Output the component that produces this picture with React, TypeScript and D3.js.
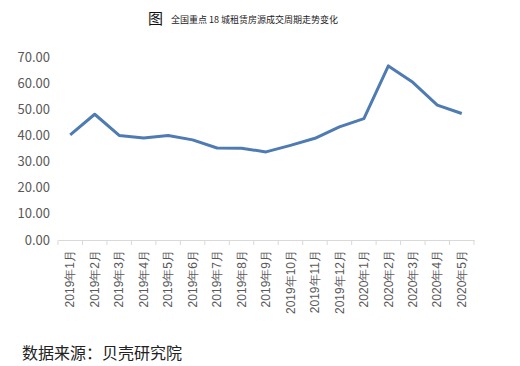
import React, { useEffect, useRef } from 'react';
import * as d3 from 'd3';

const months = [
  '2019年1月', '2019年2月', '2019年3月', '2019年4月', '2019年5月', '2019年6月',
  '2019年7月', '2019年8月', '2019年9月', '2019年10月', '2019年11月', '2019年12月',
  '2020年1月', '2020年2月', '2020年3月', '2020年4月', '2020年5月'
];
const cycleDays = [40.2, 48.1, 40.0, 39.0, 40.0, 38.3, 35.2, 35.1, 33.7, 36.2, 38.9, 43.3, 46.4, 66.6, 60.3, 51.6, 48.4];
const yTicks = [0, 10, 20, 30, 40, 50, 60, 70];

const W = 520;
const H = 366;

export default function App() {
  const svgRef = useRef<SVGSVGElement>(null);

  useEffect(() => {
    if (!svgRef.current) return;
    const svg = d3.select(svgRef.current);
    svg.selectAll('*').remove();

    const left = 58, right = 474, top = 57, bottom = 240;

    const x = d3.scaleBand<string>().domain(months).range([left, right]).padding(0);
    const y = d3.scaleLinear().domain([0, 70]).range([bottom, top]);

    // title
    const title = svg.append('g');
    title.append('text')
      .attr('x', 148).attr('y', 24)
      .attr('font-size', 15)
      .attr('fill', '#111')
      .text('图');
    title.append('text')
      .attr('x', 171).attr('y', 23)
      .attr('font-size', 9)
      .attr('fill', '#222')
      .text('全国重点 18 城租赁房源成交周期走势变化');

    // y axis labels (no axis line)
    svg.append('g')
      .selectAll('text')
      .data(yTicks)
      .enter().append('text')
      .attr('x', 50)
      .attr('y', d => y(d))
      .attr('dy', '0.35em')
      .attr('text-anchor', 'end')
      .attr('font-size', 13)
      .attr('fill', '#595959')
      .text(d => d3.format('.2f')(d));

    // x axis
    const xAxis = svg.append('g')
      .attr('transform', `translate(0,${bottom})`)
      .call(d3.axisBottom(x).tickSize(0).tickFormat(() => ''));
    xAxis.select('.domain').attr('stroke', '#d9d9d9');
    // band-edge ticks
    const edges = months.map(m => x(m) as number).concat([right]);
    xAxis.selectAll('.edge')
      .data(edges)
      .enter().append('line')
      .attr('x1', d => d).attr('x2', d => d)
      .attr('y1', 0).attr('y2', 5)
      .attr('stroke', '#d9d9d9');
    xAxis.selectAll('.lbl')
      .data(months)
      .enter().append('text')
      .attr('transform', d => `translate(${(x(d) as number) + x.bandwidth() / 2},10) rotate(-90)`)
      .attr('text-anchor', 'end')
      .attr('dy', '0.35em')
      .attr('font-size', 12)
      .attr('fill', '#595959')
      .text(d => d);

    // line
    const line = d3.line<number>()
      .x((_, i) => (x(months[i]) as number) + x.bandwidth() / 2)
      .y(d => y(d));
    svg.append('path')
      .datum(cycleDays)
      .attr('fill', 'none')
      .attr('stroke', '#4f7bb3')
      .attr('stroke-width', 3)
      .attr('stroke-linejoin', 'round')
      .attr('d', line);

    // source
    svg.append('text')
      .attr('x', 22).attr('y', 359)
      .attr('font-size', 16)
      .attr('fill', '#222')
      .text('数据来源：贝壳研究院');
  }, []);

  return (
    <svg ref={svgRef} width={W} height={H}
      style={{ position: 'absolute', left: 0, top: 0, fontFamily: '"Noto Sans CJK SC", "DejaVu Sans", sans-serif', background: '#fff' }} />
  );
}
